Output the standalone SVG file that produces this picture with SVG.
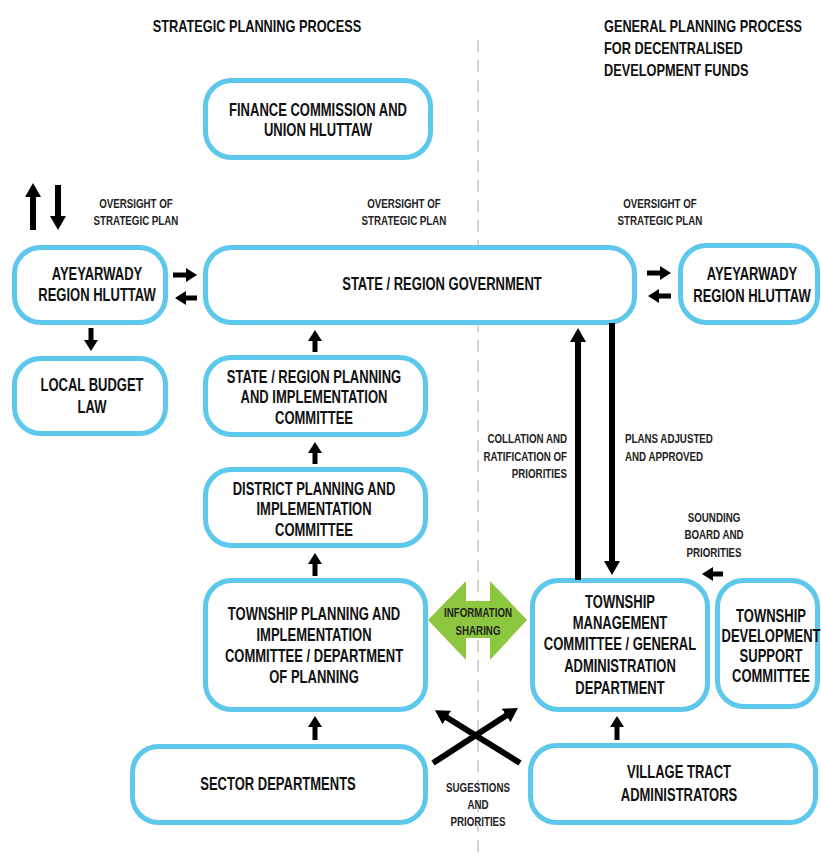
<svg xmlns="http://www.w3.org/2000/svg" width="821" height="855" viewBox="0 0 821 855">
<style>
.box{fill:#fff;stroke:#5DC8EC;stroke-width:5}
.t{font-family:"Liberation Sans",Arial,sans-serif;font-weight:bold;font-size:19px;fill:#111;text-anchor:middle}
.s{font-family:"Liberation Sans",Arial,sans-serif;font-weight:bold;font-size:13px;fill:#222;text-anchor:middle}
.h{font-family:"Liberation Sans",Arial,sans-serif;font-weight:bold;font-size:17px;fill:#111}
.big{stroke:#000;stroke-width:6;fill:none;marker-end:url(#bh)}
.sm{stroke:#000;stroke-width:5;fill:none;marker-end:url(#sh)}
</style>
<defs>
<marker id="bh" markerUnits="userSpaceOnUse" viewBox="0 0 15 16" markerWidth="15" markerHeight="16" refX="1" refY="8" orient="auto"><path d="M0,0 L14,8 L0,16 Z" fill="#000"/></marker>
<marker id="sh" markerUnits="userSpaceOnUse" viewBox="0 0 12 14" markerWidth="12" markerHeight="14" refX="1" refY="7" orient="auto"><path d="M0,0 L11,7 L0,14 Z" fill="#000"/></marker>
</defs>
<rect width="821" height="855" fill="#fff"/>
<line x1="478" y1="40" x2="478" y2="855" stroke="#c8c8c8" stroke-width="1.5" stroke-dasharray="12 8"/>

<g id="headers">
<text class="h" text-anchor="middle" transform="translate(257 0) scale(0.75 1)"><tspan x="0" y="32">STRATEGIC PLANNING PROCESS</tspan></text>
<text class="h" text-anchor="start" transform="translate(604 0) scale(0.75 1)"><tspan x="0" y="32">GENERAL PLANNING PROCESS</tspan><tspan x="0" y="54">FOR DECENTRALISED</tspan><tspan x="0" y="76">DEVELOPMENT FUNDS</tspan></text>
</g>

<g id="n-finance"><rect class="box" x="205.5" y="80.5" width="225" height="77" rx="26"/>
<text class="t" transform="translate(318 0) scale(0.685 1)"><tspan x="0" y="116">FINANCE COMMISSION AND</tspan><tspan x="0" y="136">UNION HLUTTAW</tspan></text></g>

<g id="n-hluttaw-left"><rect class="box" x="14.5" y="247.5" width="151" height="75" rx="26"/>
<text class="t" transform="translate(97 0) scale(0.685 1)"><tspan x="0" y="280">AYEYARWADY</tspan><tspan x="0" y="301">REGION HLUTTAW</tspan></text></g>

<g id="n-gov"><rect class="box" x="205.5" y="247.5" width="429" height="75" rx="26"/>
<text class="t" transform="translate(442 0) scale(0.685 1)"><tspan x="0" y="290">STATE / REGION GOVERNMENT</tspan></text></g>

<g id="n-hluttaw-right"><rect class="box" x="680.5" y="245.5" width="137" height="77" rx="26"/>
<text class="t" transform="translate(752 0) scale(0.685 1)"><tspan x="0" y="280">AYEYARWADY</tspan><tspan x="0" y="302">REGION HLUTTAW</tspan></text></g>

<g id="n-budget"><rect class="box" x="14.5" y="358.5" width="151" height="75" rx="26"/>
<text class="t" transform="translate(92 0) scale(0.685 1)"><tspan x="0" y="391">LOCAL BUDGET</tspan><tspan x="0" y="413">LAW</tspan></text></g>

<g id="n-srpic"><rect class="box" x="205.5" y="357.5" width="220" height="77" rx="26"/>
<text class="t" transform="translate(314 0) scale(0.685 1)"><tspan x="0" y="383">STATE / REGION PLANNING</tspan><tspan x="0" y="403">AND IMPLEMENTATION</tspan><tspan x="0" y="424">COMMITTEE</tspan></text></g>

<g id="n-district"><rect class="box" x="205.5" y="469.5" width="220" height="76" rx="26"/>
<text class="t" transform="translate(314 0) scale(0.685 1)"><tspan x="0" y="495">DISTRICT PLANNING AND</tspan><tspan x="0" y="515">IMPLEMENTATION</tspan><tspan x="0" y="536">COMMITTEE</tspan></text></g>

<g id="n-township-planning"><rect class="box" x="205.5" y="580.5" width="220" height="129" rx="26"/>
<text class="t" transform="translate(314 0) scale(0.685 1)"><tspan x="0" y="620">TOWNSHIP PLANNING AND</tspan><tspan x="0" y="641">IMPLEMENTATION</tspan><tspan x="0" y="662">COMMITTEE / DEPARTMENT</tspan><tspan x="0" y="683">OF PLANNING</tspan></text></g>

<g id="n-sector"><rect class="box" x="132.5" y="746.5" width="293" height="76" rx="26"/>
<text class="t" transform="translate(278 0) scale(0.685 1)"><tspan x="0" y="790">SECTOR DEPARTMENTS</tspan></text></g>

<g id="n-township-mgmt"><rect class="box" x="532.5" y="580.5" width="175" height="129" rx="26"/>
<text class="t" transform="translate(620 0) scale(0.685 1)"><tspan x="0" y="608">TOWNSHIP</tspan><tspan x="0" y="629">MANAGEMENT</tspan><tspan x="0" y="650">COMMITTEE / GENERAL</tspan><tspan x="0" y="672">ADMINISTRATION</tspan><tspan x="0" y="694">DEPARTMENT</tspan></text></g>

<g id="n-township-dev"><rect class="box" x="717.5" y="580.5" width="100" height="126" rx="26"/>
<text class="t" transform="translate(771 0) scale(0.685 1)"><tspan x="0" y="622">TOWNSHIP</tspan><tspan x="0" y="642">DEVELOPMENT</tspan><tspan x="0" y="662">SUPPORT</tspan><tspan x="0" y="682">COMMITTEE</tspan></text></g>

<g id="n-village"><rect class="box" x="530.5" y="745.5" width="285" height="77" rx="26"/>
<text class="t" transform="translate(679 0) scale(0.685 1)"><tspan x="0" y="778">VILLAGE TRACT</tspan><tspan x="0" y="801">ADMINISTRATORS</tspan></text></g>

<g id="connectors">
<line class="big" x1="33" y1="230" x2="33" y2="196"/>
<line class="big" x1="58" y1="185" x2="58" y2="217"/>
<line class="sm" x1="173" y1="275" x2="187" y2="275"/>
<line class="sm" x1="197" y1="298" x2="185" y2="298"/>
<line class="sm" x1="647" y1="273" x2="661" y2="273"/>
<line class="sm" x1="671" y1="296" x2="658" y2="296"/>
<line class="sm" x1="91" y1="328" x2="91" y2="341"/>
<line class="sm" x1="315" y1="352" x2="315" y2="340"/>
<line class="sm" x1="315" y1="464" x2="315" y2="452"/>
<line class="sm" x1="315" y1="576" x2="315" y2="563"/>
<line class="sm" x1="315" y1="740" x2="315" y2="726"/>
<line class="sm" x1="617" y1="740" x2="617" y2="726"/>
<line class="sm" x1="723" y1="574" x2="712" y2="574"/>
<line class="big" x1="578" y1="580" x2="578" y2="341"/>
<line class="big" x1="612" y1="323" x2="612" y2="562"/>
<line class="big" x1="433" y1="763" x2="507" y2="715"/>
<line class="big" x1="520" y1="763" x2="446" y2="717"/>
<polygon points="428,620 466,581 466,601 490,601 490,581 527,620 490,660 490,638 466,638 466,660" fill="#8DC63F"/>
</g>

<g id="labels">
<text class="s" transform="translate(136 0) scale(0.75 1)"><tspan x="0" y="208">OVERSIGHT OF</tspan><tspan x="0" y="225">STRATEGIC PLAN</tspan></text>
<text class="s" transform="translate(404 0) scale(0.75 1)"><tspan x="0" y="208">OVERSIGHT OF</tspan><tspan x="0" y="225">STRATEGIC PLAN</tspan></text>
<text class="s" transform="translate(660 0) scale(0.75 1)"><tspan x="0" y="208">OVERSIGHT OF</tspan><tspan x="0" y="225">STRATEGIC PLAN</tspan></text>
<text class="s" text-anchor="end" style="text-anchor:end" transform="translate(567 0) scale(0.75 1)"><tspan x="0" y="443">COLLATION AND</tspan><tspan x="0" y="461">RATIFICATION OF</tspan><tspan x="0" y="478">PRIORITIES</tspan></text>
<text class="s" style="text-anchor:start" transform="translate(625 0) scale(0.75 1)"><tspan x="0" y="443">PLANS ADJUSTED</tspan><tspan x="0" y="461">AND APPROVED</tspan></text>
<text class="s" transform="translate(714 0) scale(0.75 1)"><tspan x="0" y="522">SOUNDING</tspan><tspan x="0" y="539">BOARD AND</tspan><tspan x="0" y="557">PRIORITIES</tspan></text>
<text class="s" transform="translate(478 0) scale(0.75 1)"><tspan x="0" y="617">INFORMATION</tspan><tspan x="0" y="635">SHARING</tspan></text>
<text class="s" transform="translate(478 0) scale(0.75 1)"><tspan x="0" y="792">SUGESTIONS</tspan><tspan x="0" y="809">AND</tspan><tspan x="0" y="826">PRIORITIES</tspan></text>
</g>
</svg>
